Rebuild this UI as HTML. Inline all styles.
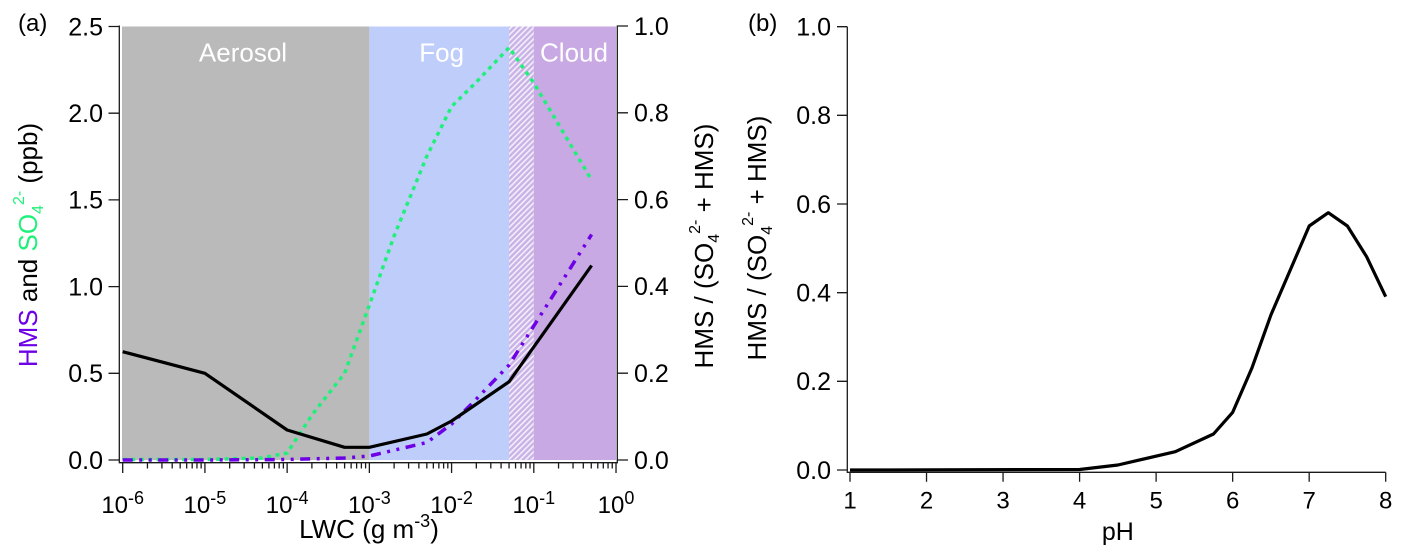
<!DOCTYPE html>
<html>
<head>
<meta charset="utf-8">
<style>
html,body{margin:0;padding:0;background:#fff;}
svg{display:block;}
text{font-family:"Liberation Sans",Arial,Helvetica,sans-serif;}
</style>
</head>
<body>
<svg width="1404" height="557" viewBox="0 0 1404 557" xmlns="http://www.w3.org/2000/svg">
<defs>
<pattern id="hatch" width="4" height="4" patternUnits="userSpaceOnUse" patternTransform="rotate(45)">
<rect x="0" y="0" width="4" height="4" fill="#c9b2e6"/>
<rect x="0" y="0" width="1.6" height="4" fill="#f4eefb"/>
</pattern>
</defs>

<!-- ============ Panel (a) ============ -->
<rect x="122" y="26.5" width="247.4" height="433.5" fill="#bababa"/>
<rect x="369.4" y="26.5" width="139.7" height="433.5" fill="#bfcdfb"/>
<rect x="509.1" y="26.5" width="24.7" height="433.5" fill="url(#hatch)"/>
<rect x="533.8" y="26.5" width="82.2" height="433.5" fill="#c8a9e3"/>

<text x="243" y="61.5" font-size="26" fill="#ffffff" text-anchor="middle">Aerosol</text>
<text x="441.7" y="61.5" font-size="26" fill="#ffffff" text-anchor="middle">Fog</text>
<text x="574" y="61.5" font-size="26" fill="#ffffff" text-anchor="middle">Cloud</text>

<polyline fill="none" stroke="#1ff07a" stroke-width="3.5" stroke-dasharray="4 4.5"
 points="122.7,459.5 204.9,459.5 261.7,458 287.1,453 311.9,415 344.6,373.3 369.4,305 394.1,236 426.9,156 451.6,106.5 476.4,82 509.1,47.5 533.8,83 591.6,180"/>
<polyline fill="none" stroke="#6e00e6" stroke-width="3.5" stroke-dasharray="10 6.5 3 6.5 3 6.5"
 points="122.7,460 204.9,460 287.1,459.5 344.6,458 369.4,456 426.9,442.5 451.6,424 476.4,399 509.1,365 591.6,234.5"/>
<polyline fill="none" stroke="#000" stroke-width="3.2" stroke-linejoin="round"
 points="122.7,351.7 204.9,373.3 287.1,430 344.6,447.3 369.4,447.3 426.9,434 451.6,421 509.1,381.7 591.6,265.5"/>

<g stroke="#1a1a1a" stroke-width="1.3" fill="none">
<path d="M119.3,25.5 V462.7 H617.3 V25.5"/>
<path d="M108.5,460 H119.3 M108.5,373.3 H119.3 M108.5,286.6 H119.3 M108.5,199.9 H119.3 M108.5,113.2 H119.3 M108.5,26.5 H119.3"/>
<path d="M617.3,460 H628 M617.3,373.2 H628 M617.3,286.4 H628 M617.3,199.6 H628 M617.3,112.8 H628 M617.3,26 H628"/>
<path d="M122.7,462.7 V473 M204.92,462.7 V473 M287.14,462.7 V473 M369.36,462.7 V473 M451.58,462.7 V473 M533.8,462.7 V473 M616.02,462.7 V473"/>
<path d="M147.45,462.7V468.5M161.93,462.7V468.5M172.2,462.7V468.5M180.17,462.7V468.5M186.68,462.7V468.5M192.19,462.7V468.5M196.95,462.7V468.5M201.15,462.7V468.5
M229.67,462.7V468.5M244.15,462.7V468.5M254.42,462.7V468.5M262.39,462.7V468.5M268.9,462.7V468.5M274.41,462.7V468.5M279.17,462.7V468.5M283.37,462.7V468.5
M311.89,462.7V468.5M326.37,462.7V468.5M336.64,462.7V468.5M344.61,462.7V468.5M351.12,462.7V468.5M356.63,462.7V468.5M361.39,462.7V468.5M365.59,462.7V468.5
M394.11,462.7V468.5M408.59,462.7V468.5M418.86,462.7V468.5M426.83,462.7V468.5M433.34,462.7V468.5M438.85,462.7V468.5M443.61,462.7V468.5M447.81,462.7V468.5
M476.33,462.7V468.5M490.81,462.7V468.5M501.08,462.7V468.5M509.05,462.7V468.5M515.56,462.7V468.5M521.07,462.7V468.5M525.83,462.7V468.5M530.03,462.7V468.5
M558.55,462.7V468.5M573.03,462.7V468.5M583.3,462.7V468.5M591.27,462.7V468.5M597.78,462.7V468.5M603.29,462.7V468.5M608.05,462.7V468.5M612.25,462.7V468.5"/>
</g>

<g font-size="25" fill="#000" text-anchor="end">
<text x="103" y="468.8">0.0</text>
<text x="103" y="382.1">0.5</text>
<text x="103" y="295.4">1.0</text>
<text x="103" y="208.7">1.5</text>
<text x="103" y="122">2.0</text>
<text x="103" y="35.3">2.5</text>
</g>
<g font-size="25" fill="#000" text-anchor="start">
<text x="634" y="468.8">0.0</text>
<text x="634" y="382">0.2</text>
<text x="634" y="295.2">0.4</text>
<text x="634" y="208.4">0.6</text>
<text x="634" y="121.6">0.8</text>
<text x="634" y="34.8">1.0</text>
</g>
<g font-size="24" fill="#000" text-anchor="middle">
<text x="122.7" y="513">10<tspan font-size="18" dy="-9">-6</tspan></text>
<text x="204.92" y="513">10<tspan font-size="18" dy="-9">-5</tspan></text>
<text x="287.14" y="513">10<tspan font-size="18" dy="-9">-4</tspan></text>
<text x="369.36" y="513">10<tspan font-size="18" dy="-9">-3</tspan></text>
<text x="451.58" y="513">10<tspan font-size="18" dy="-9">-2</tspan></text>
<text x="533.8" y="513">10<tspan font-size="18" dy="-9">-1</tspan></text>
<text x="616.02" y="513">10<tspan font-size="18" dy="-9">0</tspan></text>
</g>

<text x="369" y="538" font-size="26" text-anchor="middle" fill="#000">LWC (g m<tspan font-size="18" dy="-11">-3</tspan><tspan dy="11">)</tspan></text>

<text x="18" y="31" font-size="24" fill="#000">(a)</text>

<text transform="translate(37,245) rotate(-90)" font-size="26" text-anchor="middle" fill="#000"><tspan fill="#6e00e6">HMS</tspan> and <tspan fill="#1ff07a">SO</tspan><tspan fill="#1ff07a" font-size="16" dy="6">4</tspan><tspan fill="#1ff07a" font-size="16" dy="-19">2-</tspan><tspan dy="13"> (ppb)</tspan></text>

<text transform="translate(713,246) rotate(-90)" font-size="26" text-anchor="middle" fill="#000">HMS / (SO<tspan font-size="16" dy="6">4</tspan><tspan font-size="16" dy="-19">2-</tspan><tspan dy="13"> + HMS)</tspan></text>

<!-- ============ Panel (b) ============ -->
<polyline fill="none" stroke="#000" stroke-width="3.2" stroke-linejoin="round"
 points="850,470 1079.6,469.5 1117.9,465 1175.3,451.7 1213.5,434 1232.7,412.3 1251.8,368.3 1270.9,315 1309.2,226 1328.3,212.7 1347.4,226 1366.6,256.7 1385.7,296.7"/>

<g stroke="#1a1a1a" stroke-width="1.3" fill="none">
<path d="M847.3,26.7 V472.3 H1385.7"/>
<path d="M837,470 H847.3 M837,381.3 H847.3 M837,292.7 H847.3 M837,204 H847.3 M837,115.3 H847.3 M837,26.7 H847.3"/>
<path d="M850,472.3 V481.7 M926.53,472.3 V481.7 M1003.06,472.3 V481.7 M1079.59,472.3 V481.7 M1156.12,472.3 V481.7 M1232.65,472.3 V481.7 M1309.18,472.3 V481.7 M1385.7,472.3 V481.7"/>
</g>

<g font-size="25" fill="#000" text-anchor="end">
<text x="831" y="478.8">0.0</text>
<text x="831" y="390.1">0.2</text>
<text x="831" y="301.5">0.4</text>
<text x="831" y="212.8">0.6</text>
<text x="831" y="124.1">0.8</text>
<text x="831" y="35.5">1.0</text>
</g>
<g font-size="24" fill="#000" text-anchor="middle">
<text x="850" y="508.3">1</text>
<text x="926.53" y="508.3">2</text>
<text x="1003.06" y="508.3">3</text>
<text x="1079.59" y="508.3">4</text>
<text x="1156.12" y="508.3">5</text>
<text x="1232.65" y="508.3">6</text>
<text x="1309.18" y="508.3">7</text>
<text x="1385.7" y="508.3">8</text>
</g>

<text x="1117.8" y="540" font-size="25" text-anchor="middle" fill="#000">pH</text>
<text x="748" y="31" font-size="24" fill="#000">(b)</text>

<text transform="translate(766,238) rotate(-90)" font-size="26" text-anchor="middle" fill="#000">HMS / (SO<tspan font-size="16" dy="6">4</tspan><tspan font-size="16" dy="-19">2-</tspan><tspan dy="13"> + HMS)</tspan></text>
</svg>
</body>
</html>
